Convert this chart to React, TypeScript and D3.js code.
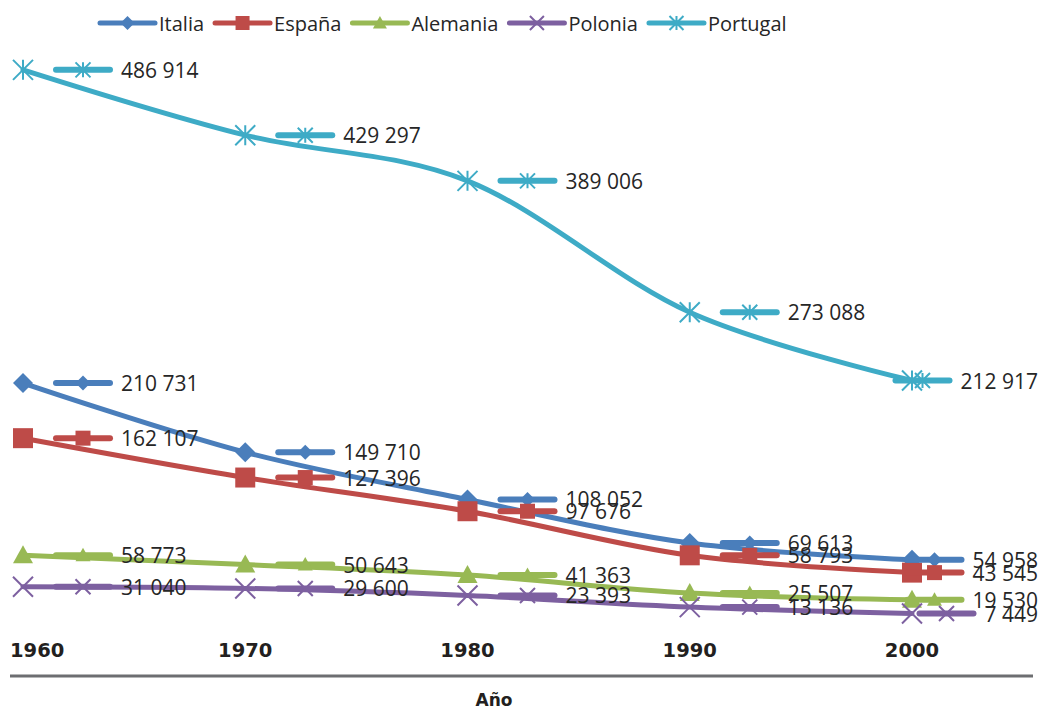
import { useEffect, useRef } from "react"
import * as d3 from "d3"

const years = [1960, 1970, 1980, 1990, 2000]
const seriesNames = ["Italia", "España", "Alemania", "Polonia", "Portugal"]
const italia = [210731, 149710, 108052, 69613, 54958]
const espana = [162107, 127396, 97676, 58793, 43545]
const alemania = [58773, 50643, 41363, 25507, 19530]
const polonia = [31040, 29600, 23393, 13136, 7449]
const portugal = [486914, 429297, 389006, 273088, 212917]
const xTitle = "Año"

const colors = ["#4a7ebb", "#be4b48", "#98b954", "#7d60a0", "#3eabc6"]
const markerTypes = ["diamond", "square", "triangle", "x", "star"]

const fmt = d3.formatLocale({ decimal: ",", thousands: " ", grouping: [3], currency: ["", ""] }).format(",d")

function markerPath(type: string, r: number) {
  if (type === "diamond") return `M0,${-r}L${r},0L0,${r}L${-r},0Z`
  if (type === "square") return `M${-r},${-r}h${2 * r}v${2 * r}h${-2 * r}Z`
  if (type === "triangle") return `M0,${-r}L${r},${r * 0.8}L${-r},${r * 0.8}Z`
  if (type === "x") return `M${-r},${-r}L${r},${r}M${-r},${r}L${r},${-r}`
  return `M${-r},${-r}L${r},${r}M${-r},${r}L${r},${-r}M0,${-r}L0,${r}`
}

function drawMarker(g: any, type: string, color: string, x: number, y: number, r: number) {
  const filled = type === "diamond" || type === "square" || type === "triangle"
  g.append("path")
    .attr("d", markerPath(type, r))
    .attr("transform", `translate(${x},${y})`)
    .attr("fill", filled ? color : "none")
    .attr("stroke", filled ? "none" : color)
    .attr("stroke-width", filled ? 0 : 2)
}

export default function App() {
  const ref = useRef<SVGSVGElement>(null)
  const width = 1041
  const height = 710

  useEffect(() => {
    const svg = d3.select(ref.current)
    svg.selectAll("*").remove()

    const data = [italia, espana, alemania, polonia, portugal]
    const x = d3.scaleLinear().domain([1960, 2000]).range([23, 912])
    const y = d3.scaleLinear().domain([0, 500000]).range([622, 55])
    const font = "'Open Sans', sans-serif"
    const textColor = "#262626"

    // axis line
    svg.append("line")
      .attr("x1", 10).attr("x2", 1033)
      .attr("y1", 676).attr("y2", 676)
      .attr("stroke", "#6d6e71").attr("stroke-width", 3)

    // tick labels
    years.forEach(yr => {
      const t = svg.append("text")
        .attr("y", 657)
        .attr("text-anchor", "middle")
        .attr("font-family", "'DejaVu Sans', sans-serif")
        .attr("font-weight", "bold")
        .attr("font-size", 19.5)
        .attr("fill", "#231f20")
        .text(String(yr))
      const w = (t.node() as SVGTextElement).getComputedTextLength()
      t.attr("x", Math.max(x(yr), 10 + w / 2))
    })

    svg.append("text")
      .attr("x", 494).attr("y", 706)
      .attr("text-anchor", "middle")
      .attr("font-family", "'DejaVu Sans', sans-serif")
      .attr("font-weight", "bold")
      .attr("font-size", 17)
      .attr("fill", "#231f20")
      .text(xTitle)

    const line = d3.line<number>()
      .x((_, i) => x(years[i]))
      .y(d => y(d))
      .curve(d3.curveCardinal.tension(0))

    data.forEach((vals, s) => {
      const g = svg.append("g")
      g.append("path")
        .datum(vals)
        .attr("d", line)
        .attr("fill", "none")
        .attr("stroke", colors[s])
        .attr("stroke-width", 5)
        .attr("stroke-linecap", "round")
      vals.forEach((v, i) => drawMarker(g, markerTypes[s], colors[s], x(years[i]), y(v), 10))
    })

    // data labels with legend keys
    data.forEach((vals, s) => {
      const g = svg.append("g")
      vals.forEach((v, i) => {
        const px = x(years[i])
        const py = y(v)
        const t = g.append("text")
          .attr("y", py + 8)
          .attr("font-family", font)
          .attr("font-size", 21)
          .attr("fill", textColor)
          .text(fmt(v))
        const w = (t.node() as SVGTextElement).getComputedTextLength()
        let tx = px + 98
        if (tx + w > 1038) tx = 1038 - w
        t.attr("x", tx)
        const keyEnd = tx - 11
        const keyStart = keyEnd - 54
        g.insert("line", "text")
          .attr("x1", keyStart).attr("x2", keyEnd)
          .attr("y1", py).attr("y2", py)
          .attr("stroke", colors[s]).attr("stroke-width", 6)
          .attr("stroke-linecap", "round")
        const mg = g.insert("g", "text")
        drawMarker(mg, markerTypes[s], colors[s], (keyStart + keyEnd) / 2, py, 7.5)
      })
    })

    // legend
    let lx = 100
    const ly = 23
    seriesNames.forEach((name, s) => {
      const g = svg.append("g")
      g.append("line")
        .attr("x1", lx).attr("x2", lx + 55)
        .attr("y1", ly).attr("y2", ly)
        .attr("stroke", colors[s]).attr("stroke-width", 5)
        .attr("stroke-linecap", "round")
      drawMarker(g, markerTypes[s], colors[s], lx + 27.5, ly, 7)
      const t = g.append("text")
        .attr("x", lx + 59).attr("y", ly + 8)
        .attr("font-family", font)
        .attr("font-size", 20)
        .attr("fill", textColor)
        .text(name)
      const w = (t.node() as SVGTextElement).getComputedTextLength()
      lx = lx + 59 + w + 11
    })
  }, [])

  return (
    <svg ref={ref} width={width} height={height}
      style={{ position: "absolute", left: 0, top: 0, background: "#fff" }} />
  )
}
